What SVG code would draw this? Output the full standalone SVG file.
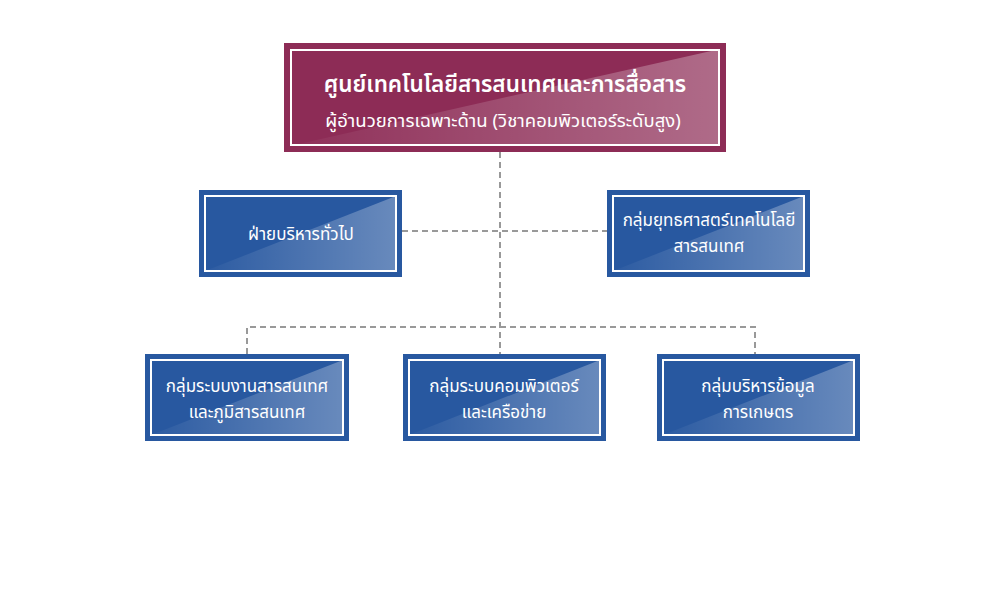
<svg xmlns="http://www.w3.org/2000/svg" width="1000" height="600" viewBox="0 0 1000 600">
<defs>
<linearGradient id="sheen" x1="0" y1="0" x2="1" y2="0">
<stop offset="0" stop-color="#ffffff" stop-opacity="0.02"/>
<stop offset="1" stop-color="#ffffff" stop-opacity="0.3"/>
</linearGradient>
<style>
.t{font-family:"Noto Sans Thai","Noto Sans","DejaVu Sans",sans-serif;fill:#ffffff;text-anchor:middle}
.inner{fill:none;stroke:#ffffff;stroke-width:2}
.blue{fill:#2858a0}
.red{fill:#8d2c56}
.conn{fill:none;stroke:#999999;stroke-width:2;stroke-dasharray:6 4}
</style>
</defs>
<rect width="1000" height="600" fill="#ffffff"/>
<g id="connectors">
<path class="conn" d="M500 152 V354"/>
<path class="conn" d="M402 231 H607"/>
<path class="conn" d="M247 354 V327 H755 V354"/>
</g>
<g id="top">
<rect class="red" x="284" y="43" width="442" height="109"/>
<polygon fill="url(#sheen)" points="290,146 720,49 720,146"/>
<rect class="inner" x="291" y="50" width="428" height="95"/>
<text class="t" x="505" y="92" font-size="22.5" font-weight="600">ศูนย์เทคโนโลยีสารสนเทศและการสื่อสาร</text>
<text class="t" x="503" y="127" font-size="18.5">ผู้อำนวยการเฉพาะด้าน (วิชาคอมพิวเตอร์ระดับสูง)</text>
</g>
<g id="admin">
<rect class="blue" x="199" y="190" width="203" height="87"/>
<polygon fill="url(#sheen)" points="205,271 396,196 396,271"/>
<rect class="inner" x="205" y="196" width="191" height="75"/>
<text class="t" x="301" y="240" font-size="17">ฝ่ายบริหารทั่วไป</text>
</g>
<g id="strategy">
<rect class="blue" x="607" y="190" width="203" height="87"/>
<polygon fill="url(#sheen)" points="613,271 804,196 804,271"/>
<rect class="inner" x="613" y="196" width="191" height="75"/>
<text class="t" x="709" y="226" font-size="17">กลุ่มยุทธศาสตร์เทคโนโลยี</text>
<text class="t" x="709" y="252" font-size="17">สารสนเทศ</text>
</g>
<g id="infosys">
<rect class="blue" x="145" y="354" width="204" height="87"/>
<polygon fill="url(#sheen)" points="151,435 343,360 343,435"/>
<rect class="inner" x="151" y="360" width="192" height="75"/>
<text class="t" x="247" y="392" font-size="17">กลุ่มระบบงานสารสนเทศ</text>
<text class="t" x="247" y="418" font-size="17">และภูมิสารสนเทศ</text>
</g>
<g id="network">
<rect class="blue" x="403" y="354" width="203" height="87"/>
<polygon fill="url(#sheen)" points="409,435 600,360 600,435"/>
<rect class="inner" x="409" y="360" width="191" height="75"/>
<text class="t" x="504" y="392" font-size="17">กลุ่มระบบคอมพิวเตอร์</text>
<text class="t" x="504" y="418" font-size="17">และเครือข่าย</text>
</g>
<g id="agri">
<rect class="blue" x="657" y="354" width="203" height="87"/>
<polygon fill="url(#sheen)" points="663,435 854,360 854,435"/>
<rect class="inner" x="663" y="360" width="191" height="75"/>
<text class="t" x="758" y="392" font-size="17">กลุ่มบริหารข้อมูล</text>
<text class="t" x="758" y="418" font-size="17">การเกษตร</text>
</g>
</svg>
